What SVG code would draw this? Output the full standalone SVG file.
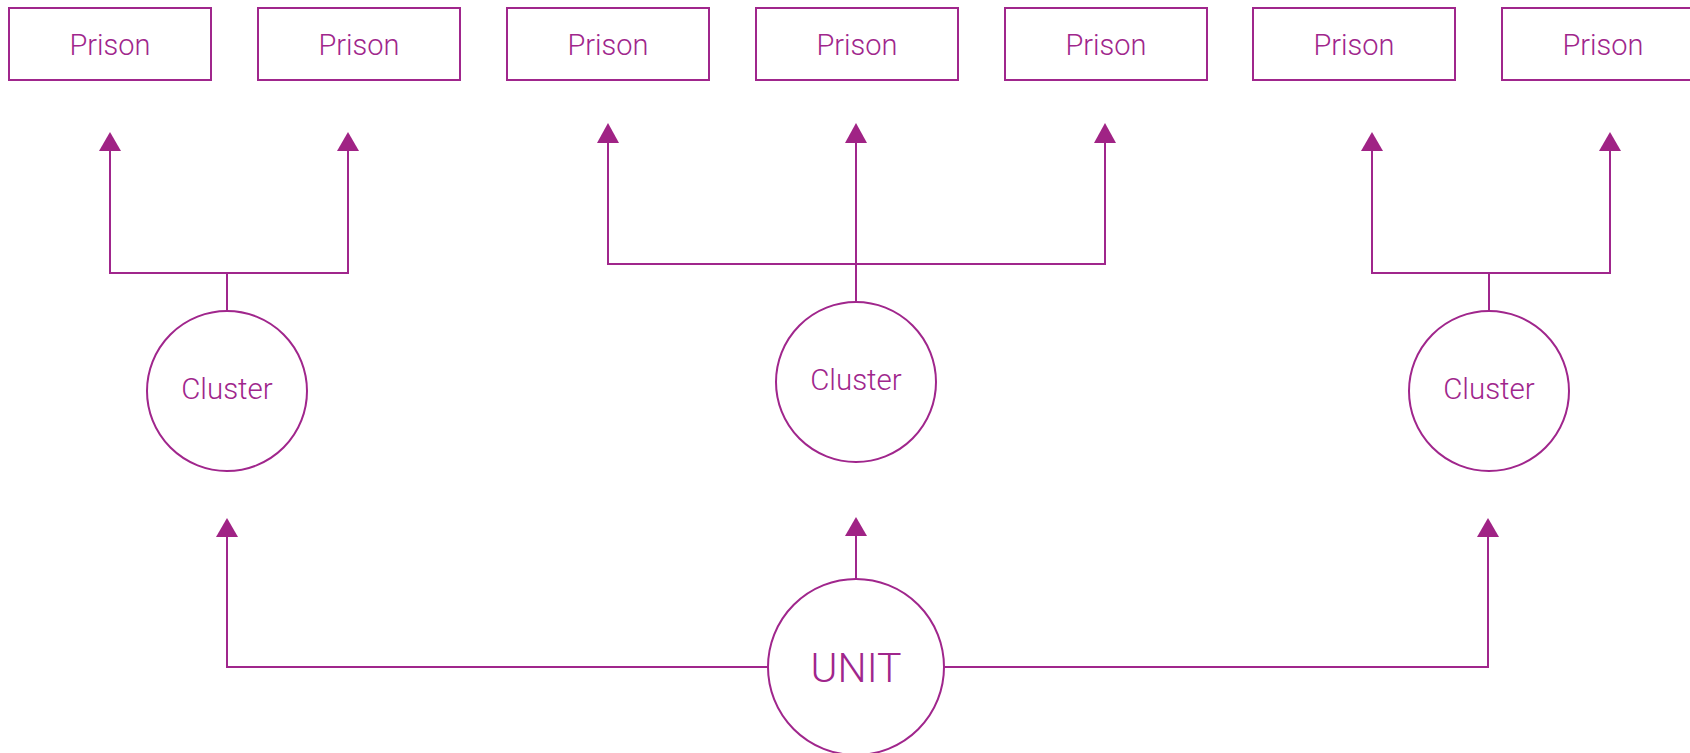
<svg xmlns="http://www.w3.org/2000/svg" width="1690" height="753" viewBox="0 0 1690 753">
<defs>
<style>
.box{fill:#fff;stroke:#A0268C;stroke-width:2}
.circ{fill:#fff;stroke:#A0268C;stroke-width:2}
.lbl{font-family:Roboto,"Liberation Sans",sans-serif;font-weight:300;fill:#A0268C;text-anchor:middle}
.p{font-size:29px}
.c{font-size:29.5px}
.u{font-size:41px}
.ln{fill:none;stroke:#A0268C;stroke-width:2}
.ah{fill:#A02385}
</style>
</defs>
<rect width="1690" height="753" fill="#fff"/>
<g id="connectors">
<path class="ln" d="M227 311 V273"/>
<path class="ln" d="M110 151 V273 H348 V151"/>
<path class="ln" d="M856 302 V143"/>
<path class="ln" d="M608 143 V264 H1105 V143"/>
<path class="ln" d="M1489 310 V273"/>
<path class="ln" d="M1372 151 V273 H1610 V151"/>
<path class="ln" d="M768 667 H227 V537"/>
<path class="ln" d="M944 667 H1488 V537"/>
<path class="ln" d="M856 579 V536"/>
<path class="ah" d="M110 132 L121 151 L99 151 Z"/>
<path class="ah" d="M348 132 L359 151 L337 151 Z"/>
<path class="ah" d="M608 123 L619 143 L597 143 Z"/>
<path class="ah" d="M856 123 L867 143 L845 143 Z"/>
<path class="ah" d="M1105 123 L1116 143 L1094 143 Z"/>
<path class="ah" d="M1372 132 L1383 151 L1361 151 Z"/>
<path class="ah" d="M1610 132 L1621 151 L1599 151 Z"/>
<path class="ah" d="M227 518 L238 537 L216 537 Z"/>
<path class="ah" d="M856 517 L867 536 L845 536 Z"/>
<path class="ah" d="M1488 518 L1499 537 L1477 537 Z"/>
</g>
<g id="prison1"><rect class="box" x="9" y="8" width="202" height="72"/><text class="lbl p" x="110" y="55">Prison</text></g>
<g id="prison2"><rect class="box" x="258" y="8" width="202" height="72"/><text class="lbl p" x="359" y="55">Prison</text></g>
<g id="prison3"><rect class="box" x="507" y="8" width="202" height="72"/><text class="lbl p" x="608" y="55">Prison</text></g>
<g id="prison4"><rect class="box" x="756" y="8" width="202" height="72"/><text class="lbl p" x="857" y="55">Prison</text></g>
<g id="prison5"><rect class="box" x="1005" y="8" width="202" height="72"/><text class="lbl p" x="1106" y="55">Prison</text></g>
<g id="prison6"><rect class="box" x="1253" y="8" width="202" height="72"/><text class="lbl p" x="1354" y="55">Prison</text></g>
<g id="prison7"><rect class="box" x="1502" y="8" width="202" height="72"/><text class="lbl p" x="1603" y="55">Prison</text></g>
<g id="cluster1"><circle class="circ" cx="227" cy="391" r="80"/><text class="lbl c" x="227" y="399">Cluster</text></g>
<g id="cluster2"><circle class="circ" cx="856" cy="382" r="80"/><text class="lbl c" x="856" y="390">Cluster</text></g>
<g id="cluster3"><circle class="circ" cx="1489" cy="391" r="80"/><text class="lbl c" x="1489" y="399">Cluster</text></g>
<g id="unit"><circle class="circ" cx="856" cy="667" r="88"/><text class="lbl u" x="856" y="682">UNIT</text></g>
</svg>
